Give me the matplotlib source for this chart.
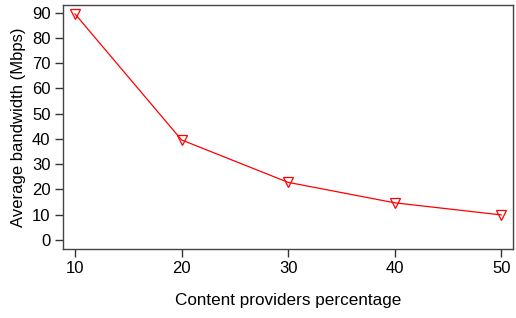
import matplotlib
matplotlib.use("Agg")
import matplotlib.pyplot as plt

plt.rcParams['font.family'] = ['Liberation Sans', 'DejaVu Sans']

percent = [10, 20, 30, 40, 50]
bandwidth = [89.5, 39.6, 22.8, 14.7, 9.9]
yticks = [0, 10, 20, 30, 40, 50, 60, 70, 80, 90]

fig = plt.figure(figsize=(5.16, 3.18), dpi=100)
ax = fig.add_axes([0.122, 0.217, 0.872, 0.767])

ax.plot(percent, bandwidth, color='red', lw=0.9, marker='v', ms=7.5,
        mfc='none', mec='red', mew=0.9)

ax.set_xlim(8.87, 51.1)
ax.set_ylim(-3.6, 93)
ax.set_xticks(percent)
ax.set_yticks(yticks)
ax.tick_params(labelsize=12, length=6, width=1, color='#333333', pad=3)
for s in ax.spines.values():
    s.set_color('#444444')
    s.set_linewidth(1)

ax.set_xlabel('Content providers percentage', fontsize=12.3, labelpad=12)
ax.set_ylabel('Average bandwidth (Mbps)', fontsize=12, labelpad=4)

fig.savefig('out.png', dpi=100)
